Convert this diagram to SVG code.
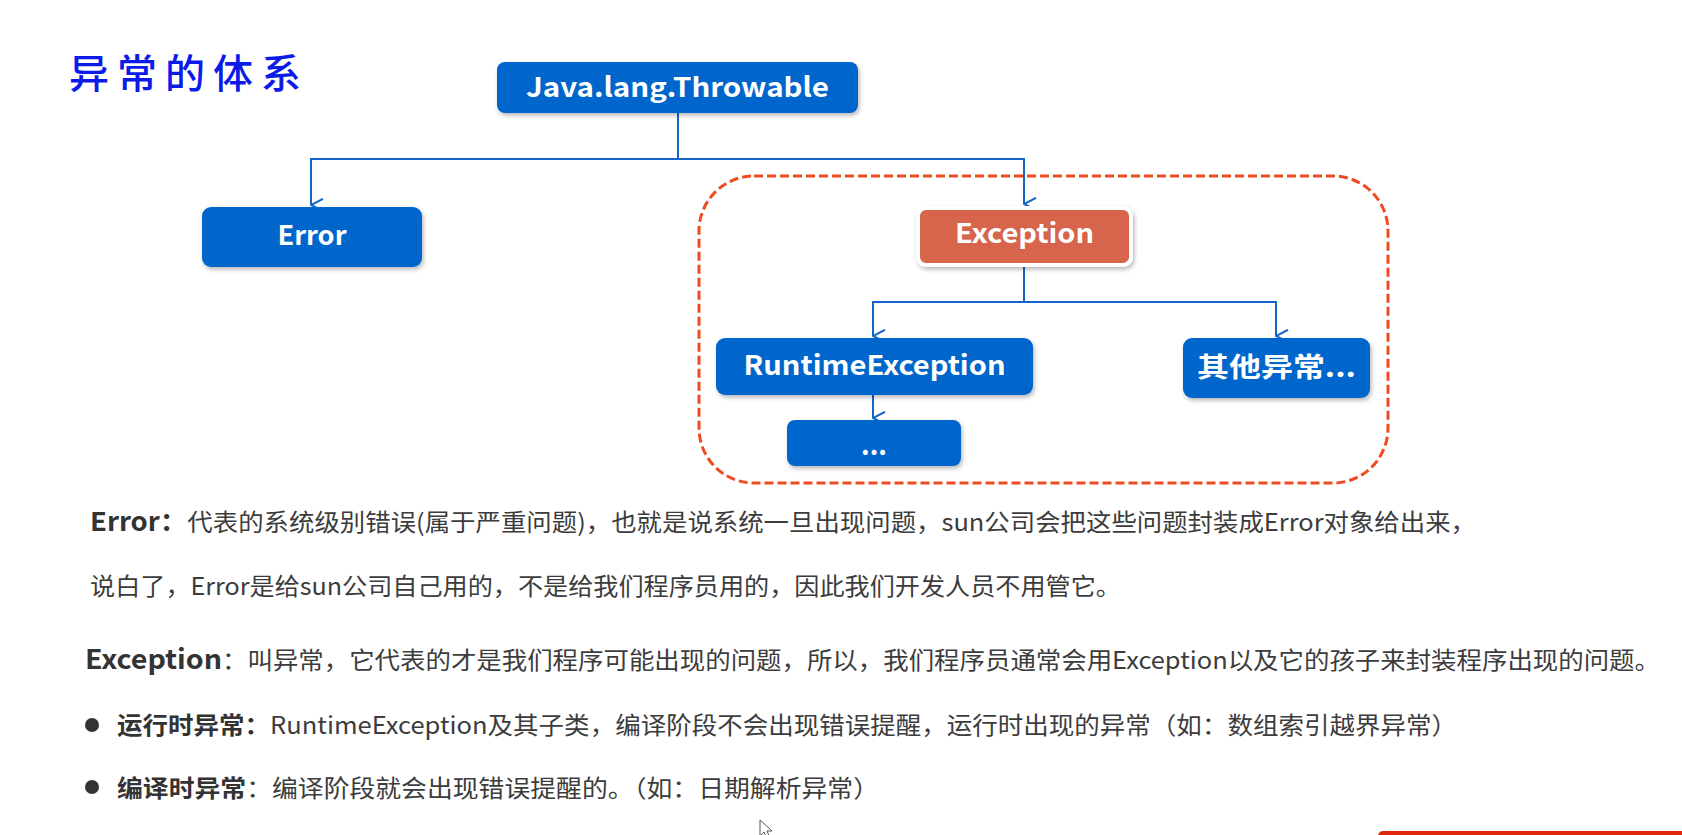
<svg xmlns="http://www.w3.org/2000/svg" width="1682" height="835" viewBox="0 0 1682 835">
<defs>
<filter id="sh" x="-10%" y="-20%" width="125%" height="150%">
<feDropShadow dx="1.5" dy="2.5" stdDeviation="2" flood-color="#000" flood-opacity="0.28"/>
</filter>
<marker id="arr" viewBox="0 0 14 14" refX="7" refY="13" markerWidth="14" markerHeight="14" markerUnits="userSpaceOnUse" orient="auto-start-reverse">
<path d="M0.8,1 L7,13 L13.2,1" fill="none" stroke="#1565c8" stroke-width="2"/>
</marker>
<style>
.box{fill:#0566cb;filter:url(#sh)}
.exc{fill:#d6654b;stroke:#ffffff;stroke-width:4;filter:url(#sh)}
.lbl{font-family:"Noto Sans CJK SC","Open Sans",sans-serif;font-weight:bold;font-size:27px;fill:#ffffff;text-anchor:middle}
.con{fill:none;stroke:#1565c8;stroke-width:2}
.body{font-family:"Noto Sans CJK SC","Noto Sans",sans-serif;font-size:24px;fill:#3c3c3c}
.b{font-weight:bold;fill:#333333}
</style>
</defs>
<rect width="1682" height="835" fill="#ffffff"/>

<g id="title">
<text x="69" y="88" textLength="232" lengthAdjust="spacing" font-family="'Noto Sans CJK SC',sans-serif" font-size="40" font-weight="500" fill="#0c1be8">异常的体系</text>
</g>

<g id="group-frame">
<rect x="699" y="176" width="689" height="307" rx="55" ry="55" fill="none" stroke="#ef4a22" stroke-width="3" stroke-dasharray="9 4"/>
</g>

<g id="connectors">
<path class="con" d="M678,113 V159 H311 V205" marker-end="url(#arr)"/>
<path class="con" d="M678,159 H1024 V204" marker-end="url(#arr)"/>
<path class="con" d="M1024,267 V302 H873 V336" marker-end="url(#arr)"/>
<path class="con" d="M1024,302 H1276 V336" marker-end="url(#arr)"/>
<path class="con" d="M873,395 V418" marker-end="url(#arr)"/>
</g>

<g id="node-throwable">
<rect class="box" x="497" y="62" width="361" height="51" rx="8"/>
<text class="lbl" x="677.5" y="97" textLength="303" lengthAdjust="spacingAndGlyphs">Java.lang.Throwable</text>
</g>

<g id="node-error">
<rect class="box" x="202" y="207" width="220" height="60" rx="9"/>
<text class="lbl" x="312" y="245" textLength="69" lengthAdjust="spacingAndGlyphs">Error</text>
</g>

<g id="node-exception">
<rect class="exc" x="918" y="208" width="213" height="57" rx="8"/>
<text class="lbl" x="1024.5" y="243" textLength="139" lengthAdjust="spacingAndGlyphs">Exception</text>
</g>

<g id="node-runtime">
<rect class="box" x="716" y="338" width="317" height="57" rx="9"/>
<text class="lbl" x="874.5" y="375" textLength="262" lengthAdjust="spacingAndGlyphs">RuntimeException</text>
</g>

<g id="node-other">
<rect class="box" x="1183" y="338" width="187" height="60" rx="9"/>
<text class="lbl" x="1276.5" y="377" textLength="159" lengthAdjust="spacingAndGlyphs">其他异常...</text>
</g>

<g id="node-more">
<rect class="box" x="787" y="420" width="174" height="46" rx="8"/>
<text class="lbl" x="874" y="455" textLength="26" lengthAdjust="spacingAndGlyphs">...</text>
</g>

<g id="notes">
<text class="body" x="90" y="531" textLength="1386" lengthAdjust="spacingAndGlyphs"><tspan class="b" font-size="26">Error：</tspan>代表的系统级别错误(属于严重问题)，也就是说系统一旦出现问题，sun公司会把这些问题封装成Error对象给出来，</text>
<text class="body" x="90" y="595" textLength="1031" lengthAdjust="spacingAndGlyphs">说白了，Error是给sun公司自己用的，不是给我们程序员用的，因此我们开发人员不用管它。</text>
<text class="body" x="85" y="669" textLength="1575" lengthAdjust="spacingAndGlyphs"><tspan class="b" font-size="27">Exception</tspan>：叫异常，它代表的才是我们程序可能出现的问题，所以，我们程序员通常会用Exception以及它的孩子来封装程序出现的问题。</text>
<circle cx="92" cy="725" r="7" fill="#333333"/>
<text class="body" x="117" y="734" textLength="1340" lengthAdjust="spacingAndGlyphs"><tspan class="b">运行时异常：</tspan>RuntimeException及其子类，编译阶段不会出现错误提醒，运行时出现的异常（如：数组索引越界异常）</text>
<circle cx="92" cy="787" r="7" fill="#333333"/>
<text class="body" x="117" y="797" textLength="762" lengthAdjust="spacingAndGlyphs"><tspan class="b">编译时异常</tspan>：编译阶段就会出现错误提醒的。（如：日期解析异常）</text>
</g>

<g id="cursor">
<path d="M760,820 L760,836 L764,832 L767,839 L770,838 L767,831 L772,831 Z" fill="#ffffff" stroke="#555555" stroke-width="1"/>
</g>

<g id="corner-bar">
<rect x="1378" y="831" width="320" height="12" rx="5" fill="#e0280f"/>
</g>
</svg>
